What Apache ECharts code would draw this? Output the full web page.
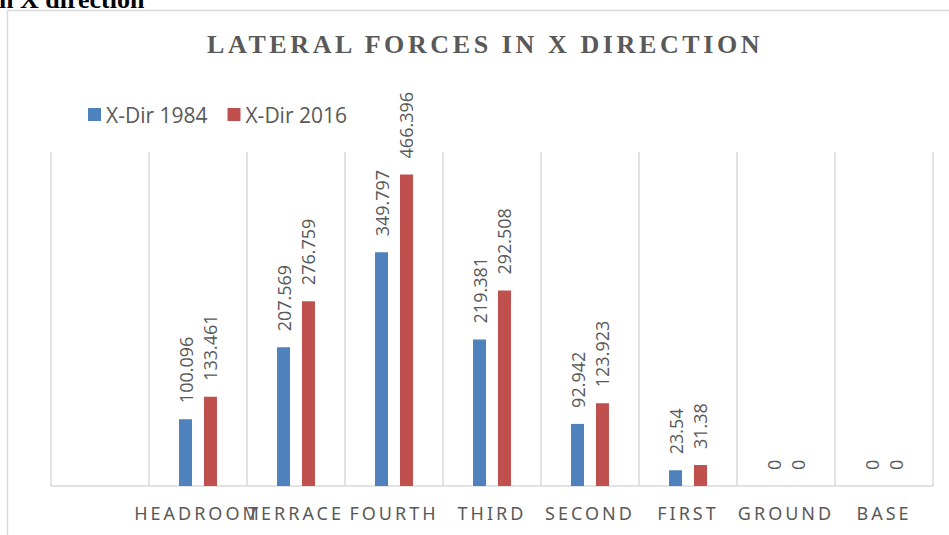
<!DOCTYPE html>
<html>
<head>
<meta charset="utf-8">
<script src="https://cdn.jsdelivr.net/npm/echarts@6/dist/echarts.min.js"></script>
<style>
  html, body { margin: 0; padding: 0; background: #fff; }
  #chart { width: 949px; height: 535px; }
  text[style*="Noto Sans"] { letter-spacing: 3px; }
  text[style*="Liberation Serif"] { letter-spacing: 3.6px; }
</style>
</head>
<body>
<div id="chart"></div>
<script>
const categories = ['', 'HEADROOM', 'TERRACE', 'FOURTH', 'THIRD', 'SECOND', 'FIRST', 'GROUND', 'BASE'];
const xDir1984 = [null, 100.096, 207.569, 349.797, 219.381, 92.942, 23.54, 0, 0];
const xDir2016 = [null, 133.461, 276.759, 466.396, 292.508, 123.923, 31.38, 0, 0];
const seriesNames = ['X-Dir 1984', 'X-Dir 2016'];
const titleText = 'LATERAL FORCES IN X DIRECTION';
const headingText = 'n X direction';

const chart = echarts.init(document.getElementById('chart'), null, { renderer: 'svg' });

const labelStyle = {
  show: true,
  position: 'top',
  rotate: 90,
  align: 'left',
  verticalAlign: 'middle',
  distance: 16,
  color: '#595959',
  fontFamily: 'Open Sans',
  fontSize: 18
};

chart.setOption({
  animation: false,
  backgroundColor: '#ffffff',
  title: {
    text: titleText,
    left: 202,
    top: 26,
    textStyle: {
      fontFamily: 'Liberation Serif',
      fontWeight: 'bold',
      fontSize: 26,
      color: '#595959'
    }
  },
  legend: {
    left: 83,
    top: 99,
    itemWidth: 13,
    itemHeight: 13,
    itemGap: 20,
    icon: 'rect',
    textStyle: { fontFamily: 'Open Sans', fontSize: 21, color: '#595959' },
    data: seriesNames
  },
  graphic: [
    {
      type: 'rect',
      silent: true,
      shape: { x: 7.5, y: 10.5, width: 960, height: 540 },
      style: { fill: 'none', stroke: '#d9d9d9', lineWidth: 1.5 }
    },
    {
      type: 'text',
      silent: true,
      left: -1,
      top: -14,
      style: {
        text: headingText,
        fontFamily: 'Times New Roman',
        fontWeight: 'bold',
        fontSize: 26,
        fill: '#000000'
      }
    }
  ],
  grid: { left: 51, right: 16, top: 152, bottom: 49, containLabel: false },
  xAxis: {
    type: 'category',
    data: categories,
    axisLine: { lineStyle: { color: '#d9d9d9', width: 1.5 } },
    axisTick: { show: false },
    splitLine: { show: true, lineStyle: { color: '#d9d9d9', width: 1.5 } },
    axisLabel: {
      interval: 0,
      margin: 18,
      color: '#595959',
      fontFamily: 'Noto Sans',
      fontSize: 18,
      hideOverlap: false
    }
  },
  yAxis: {
    type: 'value',
    min: 0,
    max: 500,
    show: false,
    splitLine: { show: false }
  },
  series: [
    {
      name: seriesNames[0],
      type: 'bar',
      data: xDir1984,
      barWidth: 13,
      barGap: '92%',
      itemStyle: { color: '#4f81bd' },
      label: labelStyle
    },
    {
      name: seriesNames[1],
      type: 'bar',
      data: xDir2016,
      barWidth: 13,
      barGap: '92%',
      itemStyle: { color: '#c0504d' },
      label: labelStyle
    }
  ]
});
</script>
</body>
</html>
